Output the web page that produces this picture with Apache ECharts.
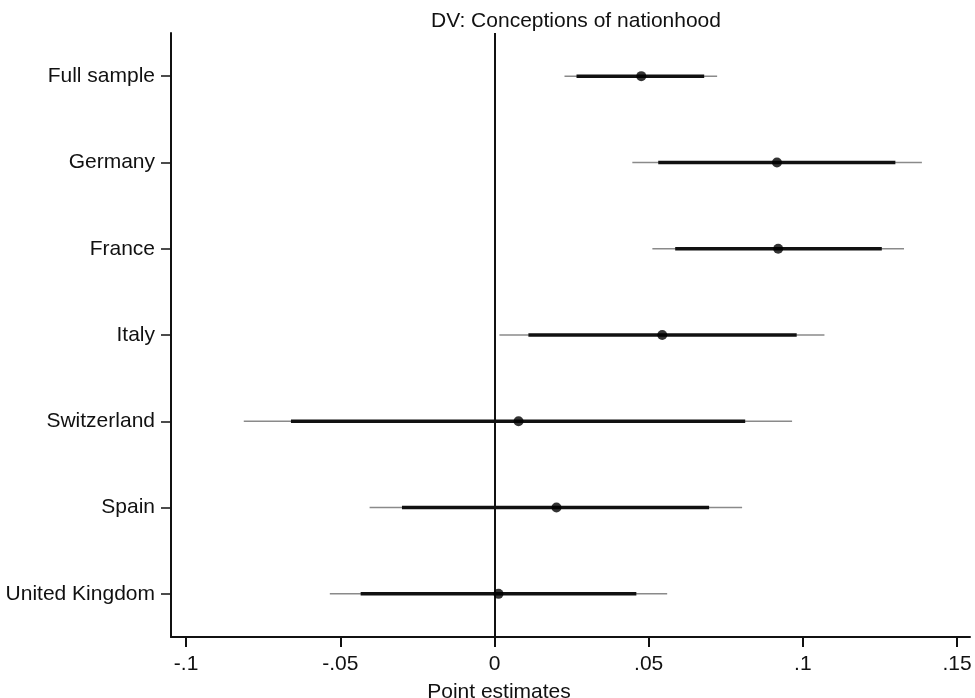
<!DOCTYPE html>
<html>
<head>
<meta charset="utf-8">
<script src="https://cdn.jsdelivr.net/npm/echarts@6/dist/echarts.min.js"></script>
<style>
  html, body { margin: 0; padding: 0; background: #fff; }
  #chart { width: 975px; height: 698px; }
</style>
</head>
<body>
<div id="chart"></div>
<script>
// rows, top to bottom
var countries = ['Full sample', 'Germany', 'France', 'Italy', 'Switzerland', 'Spain', 'United Kingdom'];
// point estimates
var estimates = [0.0476, 0.0916, 0.0920, 0.0544, 0.0078, 0.0201, 0.0013];
// inner (thick) interval
var innerLow  = [0.0266, 0.0531, 0.0586, 0.0110, -0.0660, -0.0300, -0.0434];
var innerHigh = [0.0680, 0.1300, 0.1256, 0.0980, 0.0813, 0.0696, 0.0460];
// outer (thin) interval
var outerLow  = [0.0227, 0.0447, 0.0512, 0.0016, -0.0813, -0.0405, -0.0534];
var outerHigh = [0.0722, 0.1386, 0.1328, 0.1070, 0.0965, 0.0803, 0.0560];
// x tick labels
var xTicks = [-0.1, -0.05, 0, 0.05, 0.1, 0.15];
var xTickText = ['-.1', '-.05', '0', '.05', '.1', '.15'];

var font = 'Liberation Sans';

function barData(lo, hi) {
  return countries.map(function (c, i) { return [i, lo[i], hi[i]]; });
}

function makeRender(color, width) {
  return function (params, api) {
    var a = api.coord([api.value(1), api.value(0)]);
    var b = api.coord([api.value(2), api.value(0)]);
    return {
      type: 'line',
      shape: { x1: a[0], y1: a[1], x2: b[0], y2: b[1] },
      style: { stroke: color, lineWidth: width }
    };
  };
}

var chart = echarts.init(document.getElementById('chart'));
chart.setOption({
  animation: false,
  title: [
    {
      text: 'DV: Conceptions of nationhood',
      left: 571, top: 6, textAlign: 'center',
      textStyle: { fontFamily: font, fontSize: 21, fontWeight: 'normal', color: '#111' }
    },
    {
      text: 'Point estimates',
      left: 494, top: 677, textAlign: 'center',
      textStyle: { fontFamily: font, fontSize: 21, fontWeight: 'normal', color: '#111' }
    }
  ],
  grid: { left: 171, right: 5, top: 33, bottom: 61 },
  xAxis: {
    type: 'value',
    min: -0.1049, max: 0.1542,
    splitLine: { show: false },
    axisLine: { show: true, onZero: false, lineStyle: { color: '#111', width: 2 } },
    axisTick: { show: true, length: 10, customValues: xTicks, lineStyle: { color: '#111', width: 2 } },
    axisLabel: {
      customValues: xTicks,
      margin: 17,
      fontFamily: font, fontSize: 21, color: '#111',
      formatter: function (v) {
        var i = xTicks.indexOf(v);
        return i >= 0 ? xTickText[i] : '';
      }
    }
  },
  yAxis: {
    type: 'category',
    data: countries,
    inverse: true,
    axisLine: { show: true, onZero: false, lineStyle: { color: '#111', width: 2 } },
    axisTick: { show: true, alignWithLabel: true, length: 10, lineStyle: { color: '#111', width: 1.5 } },
    axisLabel: { margin: 16, fontFamily: font, fontSize: 21, color: '#111' },
    splitLine: { show: false }
  },
  series: [
    {
      type: 'custom',
      renderItem: makeRender('#8a8a8a', 1.5),
      data: barData(outerLow, outerHigh),
      encode: { x: [1, 2], y: 0 },
      z: 3
    },
    {
      type: 'custom',
      renderItem: makeRender('#111', 3.5),
      data: barData(innerLow, innerHigh),
      encode: { x: [1, 2], y: 0 },
      z: 4
    },
    {
      type: 'scatter',
      data: countries.map(function (c, i) { return [estimates[i], i]; }),
      symbolSize: 10,
      itemStyle: { color: '#000' },
      z: 5,
      markLine: {
        silent: true,
        symbol: 'none',
        label: { show: false },
        lineStyle: { color: '#111', width: 2, type: 'solid' },
        data: [{ xAxis: 0 }]
      }
    }
  ]
});
</script>
</body>
</html>
